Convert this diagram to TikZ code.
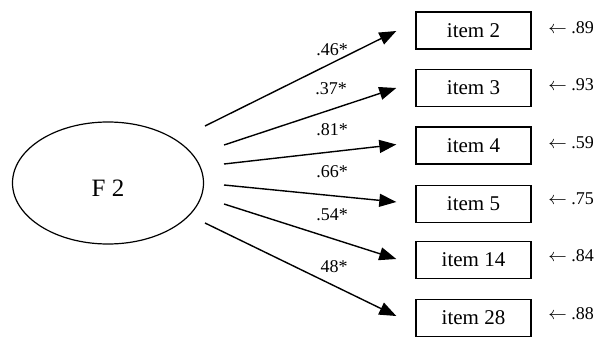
\documentclass[tikz,border=0pt]{standalone}
\usepackage{fontspec}
\setmainfont{Liberation Serif}
\usetikzlibrary{shapes.geometric,arrows.meta}

\begin{document}
\begin{tikzpicture}[x=0.5pt,y=-0.5pt,
  factor/.style={draw,ellipse,line width=0.6pt,minimum width=95.5pt,minimum height=61pt,inner sep=0pt},
  itembox/.style={draw,rectangle,line width=0.7pt,minimum width=57.5pt,minimum height=18.5pt,inner sep=0pt,font=\rmfamily\fontsize{10.5}{12}\selectfont},
  loading/.style={font=\rmfamily\fontsize{9}{10}\selectfont,inner sep=0pt},
  resid/.style={font=\rmfamily\fontsize{9}{10}\selectfont,inner sep=0pt},
  path arrow/.style={line width=0.7pt,-{Triangle[length=8.5pt,width=6.5pt]}}
]
\useasboundingbox (0,0) rectangle (599,338);

% latent factor
\node[factor] (f2) at (108,183) {};
\node[font=\rmfamily\fontsize{12.5}{14}\selectfont,inner sep=0pt] (f2text) at (108,188.5) {F 2};

% observed items
\node[itembox] (i2)  at (473.5,30.5)  {item 2};
\node[itembox] (i3)  at (473.5,88)    {item 3};
\node[itembox] (i4)  at (473.5,145.5) {item 4};
\node[itembox] (i5)  at (473.5,204)   {item 5};
\node[itembox] (i14) at (473.5,260)   {item 14};
\node[itembox] (i28) at (473.5,318)   {item 28};

% error terms
\node[resid] (e2)  at (571,28)  {$\leftarrow$ .89};
\node[resid] (e3)  at (571,85)  {$\leftarrow$ .93};
\node[resid] (e4)  at (571,142.5) {$\leftarrow$ .59};
\node[resid] (e5)  at (571,199) {$\leftarrow$ .75};
\node[resid] (e14) at (571,256) {$\leftarrow$ .84};
\node[resid] (e28) at (571,314) {$\leftarrow$ .88};

% start points of the paths, off the ellipse
\coordinate (s1) at (205,126);
\coordinate (s2) at (224,145);
\coordinate (s3) at (224,164);
\coordinate (s4) at (224,185);
\coordinate (s5) at (224,204);
\coordinate (s6) at (205,223);

% factor loadings
\draw[path arrow] (s1) -- ([xshift=-9.5pt,yshift=-0.25pt]i2.west);
\draw[path arrow] (s2) -- ([xshift=-9.5pt]i3.west);
\draw[path arrow] (s3) -- ([xshift=-9.5pt,yshift=0.5pt]i4.west);
\draw[path arrow] (s4) -- ([xshift=-9.5pt,yshift=1pt]i5.west);
\draw[path arrow] (s5) -- ([xshift=-9.5pt,yshift=0.5pt]i14.west);
\draw[path arrow] (s6) -- ([xshift=-9.5pt,yshift=1pt]i28.west);

\node[loading] (l1) at (332,50)  {.46*};
\node[loading] (l2) at (331,89)  {.37*};
\node[loading] (l3) at (332,130) {.81*};
\node[loading] (l4) at (332,172) {.66*};
\node[loading] (l5) at (332,215) {.54*};
\node[loading] (l6) at (334,267) {48*};
\end{tikzpicture}
\end{document}
